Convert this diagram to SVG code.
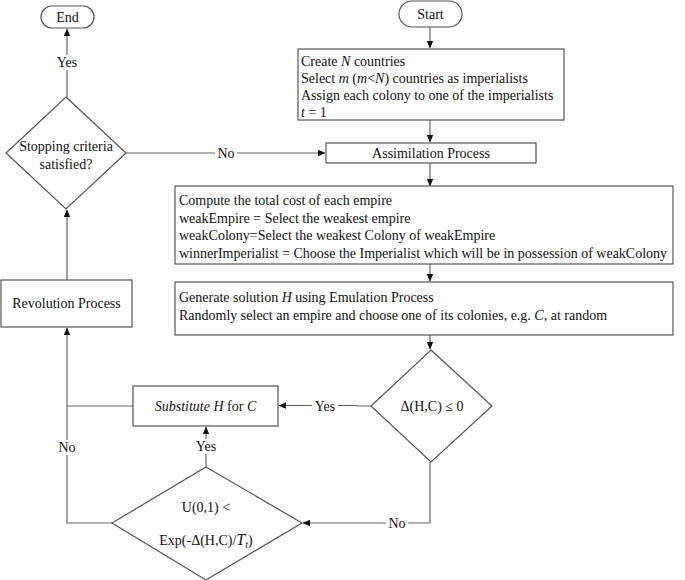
<svg xmlns="http://www.w3.org/2000/svg" width="685" height="580" viewBox="0 0 685 580">
<defs>
<marker id="arr" markerWidth="8" markerHeight="8" refX="7" refY="4" orient="auto" markerUnits="userSpaceOnUse">
<path d="M0,0.8 L7.5,4 L0,7.2 Z" fill="#111"/>
</marker>
<style>
.s{fill:#fff;stroke:#555;stroke-width:1.2}
.c{fill:none;stroke:#666;stroke-width:1.2}
text{font-family:"Liberation Serif","Times New Roman",serif;font-size:14px;fill:#111}
.m{text-anchor:middle}
.l{fill:#fff}
</style>
</defs>
<rect width="685" height="580" fill="#fff"/>
<g id="connectors">
<line class="c" x1="67" y1="97" x2="67" y2="29" marker-end="url(#arr)"/>
<line class="c" x1="126" y1="153" x2="325" y2="153" marker-end="url(#arr)"/>
<line class="c" x1="430" y1="27" x2="430" y2="48" marker-end="url(#arr)"/>
<line class="c" x1="430" y1="120" x2="430" y2="142" marker-end="url(#arr)"/>
<line class="c" x1="430" y1="163" x2="430" y2="186" marker-end="url(#arr)"/>
<line class="c" x1="430" y1="264" x2="430" y2="281" marker-end="url(#arr)"/>
<line class="c" x1="430" y1="335" x2="430" y2="349" marker-end="url(#arr)"/>
<polyline class="c" points="371,406 357,406 357,405.5 279,405.5" marker-end="url(#arr)"/>
<polyline class="c" points="430,462 430,523 303,523" marker-end="url(#arr)"/>
<line class="c" x1="206" y1="467" x2="206" y2="427" marker-end="url(#arr)"/>
<polyline class="c" points="112,523 67,523 67,328" marker-end="url(#arr)"/>
<line class="c" x1="133" y1="406" x2="67" y2="406"/>
<line class="c" x1="67" y1="280" x2="67" y2="210" marker-end="url(#arr)"/>
<rect class="l" x="56" y="55" width="22" height="15"/>
<text class="m" x="67" y="67">Yes</text>
<rect class="l" x="215" y="146" width="22" height="15"/>
<text class="m" x="226" y="158">No</text>
<rect class="l" x="312" y="399" width="26" height="15"/>
<text class="m" x="325" y="411">Yes</text>
<rect class="l" x="194" y="439" width="24" height="15"/>
<text class="m" x="206" y="451">Yes</text>
<rect class="l" x="386" y="516" width="22" height="15"/>
<text class="m" x="397" y="528">No</text>
<rect class="l" x="56" y="440" width="22" height="15"/>
<text class="m" x="67" y="452">No</text>
</g>
<g id="end">
<rect class="s" x="41" y="6" width="53" height="22" rx="11"/>
<text class="m" x="67.5" y="21.5">End</text>
</g>
<g id="start">
<rect class="s" x="399" y="1" width="63" height="26" rx="13"/>
<text class="m" x="430.5" y="18.5">Start</text>
</g>
<g id="init">
<rect class="s" x="298" y="49" width="266" height="71"/>
<text x="301" y="66">Create <tspan font-style="italic">N</tspan> countries</text>
<text x="301" y="83">Select <tspan font-style="italic">m</tspan> (<tspan font-style="italic">m</tspan>&lt;<tspan font-style="italic">N</tspan>) countries as imperialists</text>
<text x="301" y="100">Assign each colony to one of the imperialists</text>
<text x="301" y="117"><tspan font-style="italic">t</tspan> = 1</text>
</g>
<g id="assimilation">
<rect class="s" x="326" y="143" width="210" height="20"/>
<text class="m" x="431" y="158">Assimilation Process</text>
</g>
<g id="compete">
<rect class="s" x="175" y="186" width="498" height="78"/>
<text x="179" y="204.5">Compute the total cost of each empire</text>
<text x="179" y="222.5">weakEmpire = Select the weakest empire</text>
<text x="179" y="240">weakColony=Select the weakest Colony of weakEmpire</text>
<text x="179" y="258">winnerImperialist = Choose the Imperialist which will be in possession of weakColony</text>
</g>
<g id="generate">
<rect class="s" x="175" y="282" width="498" height="53"/>
<text x="179" y="301.5">Generate solution <tspan font-style="italic">H</tspan> using Emulation Process</text>
<text x="179" y="319.5">Randomly select an empire and choose one of its colonies, e.g. <tspan font-style="italic">C</tspan>,  at random</text>
</g>
<g id="delta">
<polygon class="s" points="431,350 492,406 431,462 371,406"/>
<text class="m" x="432" y="411">Δ(H,C) ≤ 0</text>
</g>
<g id="substitute">
<rect class="s" x="133" y="386" width="145" height="40"/>
<text class="m" x="205.5" y="411"><tspan font-style="italic">Substitute H</tspan> for <tspan font-style="italic">C</tspan></text>
</g>
<g id="accept">
<polygon class="s" points="206,467 302,523 206,580 112,523"/>
<text class="m" x="206" y="512">U(0,1) &lt;</text>
<text class="m" x="206" y="545">Exp(-Δ(H,C)/<tspan font-style="italic" font-size="16">T</tspan><tspan font-style="italic" font-size="10" dy="3">t</tspan><tspan dy="-3">)</tspan></text>
</g>
<g id="stopping">
<polygon class="s" points="66,97 126,153 66,209 6,153"/>
<text class="m" x="66" y="151">Stopping criteria</text>
<text class="m" x="66" y="169">satisfied?</text>
</g>
<g id="revolution">
<rect class="s" x="1" y="280" width="131" height="47"/>
<text class="m" x="66.5" y="308">Revolution Process</text>
</g>
</svg>
